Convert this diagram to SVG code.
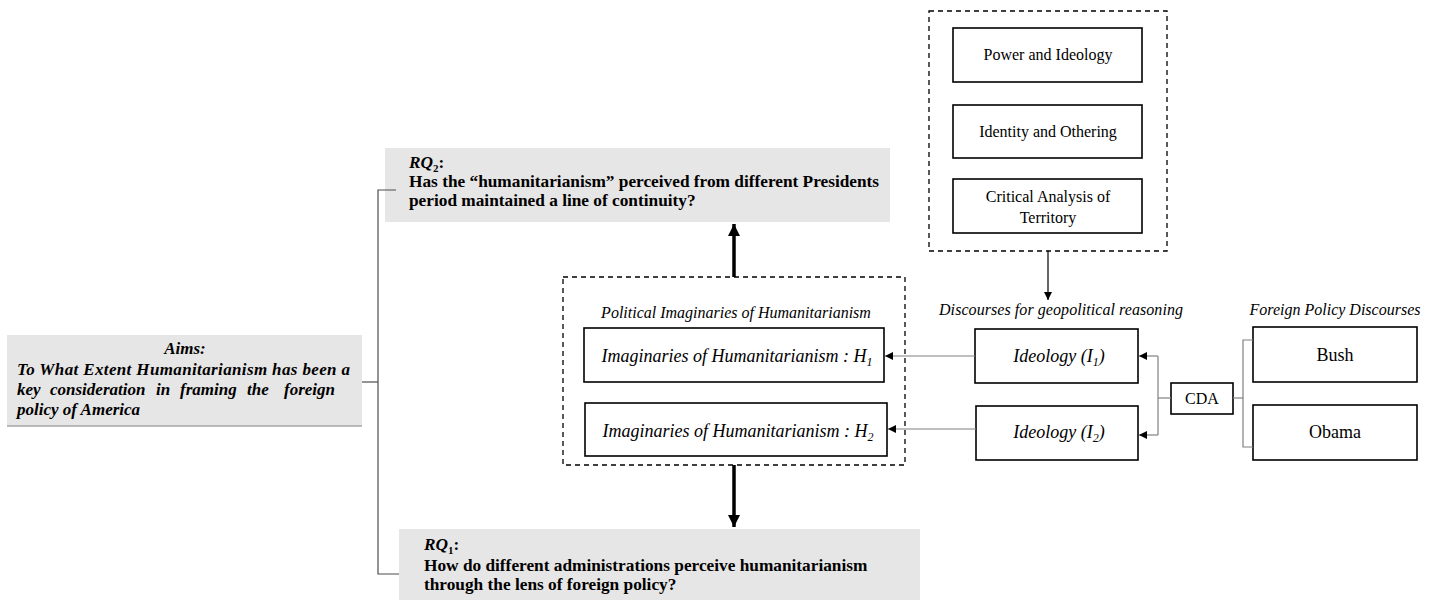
<svg xmlns="http://www.w3.org/2000/svg" width="1436" height="600" viewBox="0 0 1436 600" font-family="'Liberation Serif', Tinos, 'Times New Roman', serif">
<defs>
<style>
text{font-family:'Liberation Serif', Tinos, 'Times New Roman', serif;fill:#000}
.box{fill:#fff;stroke:#000;stroke-width:1.6}
.dash{fill:none;stroke:#000;stroke-width:1.3;stroke-dasharray:5 4}
.gray{fill:#e7e6e6}
.br{fill:none;stroke:#4d4d4d;stroke-width:1.2}
.thin{fill:none;stroke:#808080;stroke-width:1.2}
.thick{fill:none;stroke:#000;stroke-width:3.5}
.bi{font-weight:bold;font-style:italic;font-size:17px}
.b{font-weight:bold;font-size:17.3px}
.it{font-style:italic}
.r16{font-size:16px}
</style>
<marker id="ah" viewBox="0 0 10 10" refX="10" refY="5" markerWidth="8" markerHeight="8" markerUnits="userSpaceOnUse" orient="auto"><path d="M0,0 L10,5 L0,10 z" fill="#000"/></marker>
<marker id="ahb" viewBox="0 0 10 10" refX="10" refY="5" markerWidth="12" markerHeight="12" markerUnits="userSpaceOnUse" orient="auto"><path d="M0,0 L10,5 L0,10 z" fill="#000"/></marker>
</defs>

<g id="aims">
<rect class="gray" x="7" y="335" width="355" height="91"/>
<line x1="7" y1="426" x2="362" y2="426" stroke="#a6a6a6" stroke-width="1.5"/>
<text class="bi" x="185" y="354" text-anchor="middle">Aims:</text>
<text class="bi" x="17" y="375" textLength="333" lengthAdjust="spacing">To What Extent Humanitarianism has been a</text>
<text class="bi" y="395"><tspan x="17">key</tspan><tspan x="50">consideration</tspan><tspan x="156">in</tspan><tspan x="180">framing</tspan><tspan x="247">the</tspan><tspan x="284">foreign</tspan></text>
<text class="bi" x="17" y="415">policy of America</text>
</g>

<g id="rq2">
<rect class="gray" x="385" y="148" width="505" height="74"/>
<text class="b" x="409" y="168"><tspan font-style="italic">RQ</tspan><tspan font-size="11" dy="4">2</tspan><tspan dy="-4">:</tspan></text>
<text class="b" x="409" y="187">Has the “humanitarianism” perceived from different Presidents</text>
<text class="b" x="409" y="206">period maintained a line of continuity?</text>
</g>

<g id="rq1">
<rect class="gray" x="399" y="529" width="521" height="71"/>
<text class="b" x="424" y="550"><tspan font-style="italic">RQ</tspan><tspan font-size="11" dy="4">1</tspan><tspan dy="-4">:</tspan></text>
<text class="b" x="424" y="571">How do different administrations perceive humanitarianism</text>
<text class="b" x="424" y="590">through the lens of foreign policy?</text>
</g>

<g id="imaginaries">
<rect class="dash" x="563" y="277" width="342" height="188"/>
<text class="it r16" x="736" y="318" text-anchor="middle">Political Imaginaries of Humanitarianism</text>
</g>
<g id="h1">
<rect class="box" x="584" y="328" width="300" height="54"/>
<text class="it" font-size="18" x="737" y="362" text-anchor="middle">Imaginaries of Humanitarianism : H<tspan font-size="12" dy="4">1</tspan></text>
</g>
<g id="h2">
<rect class="box" x="585" y="403" width="302" height="53"/>
<text class="it" font-size="18" x="738" y="437" text-anchor="middle">Imaginaries of Humanitarianism : H<tspan font-size="12" dy="4">2</tspan></text>
</g>

<g id="themes">
<rect class="dash" x="929" y="11" width="238" height="240"/>
</g>
<g id="power">
<rect class="box" x="953" y="28" width="189" height="54"/>
<text class="r16" x="1048" y="60" text-anchor="middle">Power and Ideology</text>
</g>
<g id="identity">
<rect class="box" x="953" y="105" width="189" height="53"/>
<text class="r16" x="1048" y="137" text-anchor="middle">Identity and Othering</text>
</g>
<g id="critical">
<rect class="box" x="953" y="179" width="189" height="54"/>
<text class="r16" x="1048" y="202" text-anchor="middle">Critical Analysis of</text>
<text class="r16" x="1048" y="223" text-anchor="middle">Territory</text>
</g>

<g id="discourses">
<text class="it r16" x="1061" y="315" text-anchor="middle" textLength="244" lengthAdjust="spacing">Discourses for geopolitical reasoning</text>
</g>
<g id="ideology1">
<rect class="box" x="975" y="329" width="163" height="54"/>
<text class="it" font-size="18" x="1059" y="362" text-anchor="middle">Ideology  (I<tspan font-size="12" dy="4">1</tspan><tspan dy="-4">)</tspan></text>
</g>
<g id="ideology2">
<rect class="box" x="976" y="406" width="162" height="54"/>
<text class="it" font-size="18" x="1059" y="438" text-anchor="middle">Ideology  (I<tspan font-size="12" dy="4">2</tspan><tspan dy="-4">)</tspan></text>
</g>
<g id="cda">
<rect class="box" x="1171" y="383" width="62" height="31"/>
<text class="r16" x="1202" y="404" text-anchor="middle">CDA</text>
</g>

<g id="fpd">
<text class="it r16" x="1335" y="315" text-anchor="middle">Foreign Policy Discourses</text>
</g>
<g id="bush">
<rect class="box" x="1253" y="327" width="164" height="55"/>
<text font-size="18" x="1335" y="361" text-anchor="middle">Bush</text>
</g>
<g id="obama">
<rect class="box" x="1253" y="405" width="164" height="55"/>
<text font-size="18" x="1335" y="438" text-anchor="middle">Obama</text>
</g>

<g id="connectors">
<polyline class="br" points="362,382 378,382"/>
<polyline class="br" points="396,190 378,190 378,574 399,574"/>
<line class="thick" x1="734" y1="277" x2="734" y2="224" marker-end="url(#ahb)"/>
<line class="thick" x1="734" y1="465" x2="734" y2="527" marker-end="url(#ahb)"/>
<line x1="1048" y1="251" x2="1048" y2="300" stroke="#000" stroke-width="1.2" marker-end="url(#ah)"/>
<line class="thin" x1="975" y1="356" x2="885" y2="356" marker-end="url(#ah)"/>
<line class="thin" x1="976" y1="429" x2="888" y2="429" marker-end="url(#ah)"/>
<polyline class="thin" points="1171,398 1158,398"/>
<polyline class="thin" points="1158,356 1158,435"/>
<line class="thin" x1="1158" y1="356" x2="1139" y2="356" marker-end="url(#ah)"/>
<line class="thin" x1="1158" y1="435" x2="1139" y2="435" marker-end="url(#ah)"/>
<polyline class="thin" points="1233,398 1243,398"/>
<polyline class="thin" points="1253,340 1243,340 1243,447 1253,447"/>
</g>
</svg>
